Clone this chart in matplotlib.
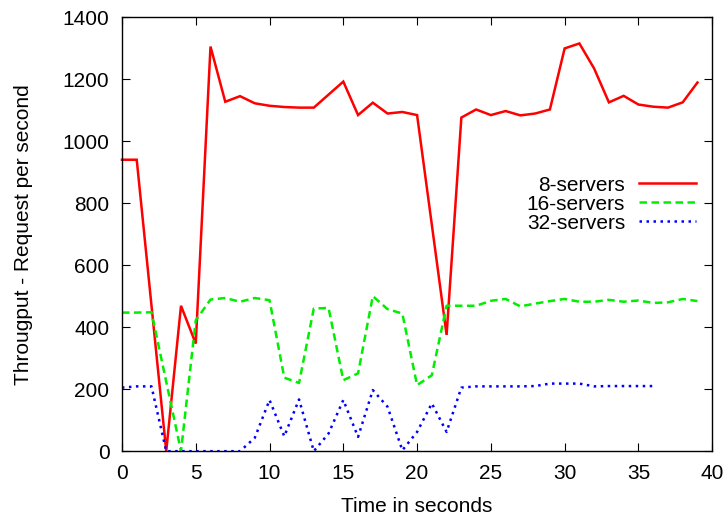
import matplotlib
matplotlib.use("Agg")
import matplotlib.pyplot as plt

plt.rcParams['font.family'] = ['Liberation Sans', 'DejaVu Sans']

# throughput samples, one per second
t8 = list(range(40))
servers8 = [940, 940, 470, 0, 469, 347, 1305, 1127, 1145, 1122,
            1114, 1110, 1108, 1108, 1150, 1192, 1084, 1124, 1089, 1094,
            1084, 730, 375, 1076, 1102, 1084, 1097, 1083, 1089, 1102,
            1299, 1315, 1234, 1125, 1146, 1118, 1111, 1108, 1125, 1189]

t16 = list(range(40))
servers16 = [447, 447, 448, 224, 0, 422, 489, 494, 482, 494,
             487, 237, 220, 460, 462, 229, 251, 500, 458, 444,
             213, 245, 469, 469, 469, 485, 491, 467, 476, 484,
             491, 482, 482, 488, 482, 486, 478, 480, 491, 484]

t32 = list(range(37))
servers32 = [205, 209, 209, 0, 0, 0, 0, 0, 0, 43,
             165, 48, 167, 0, 57, 165, 46, 197, 143, 3,
             62, 154, 62, 205, 209, 209, 209, 209, 210, 218,
             218, 218, 209, 210, 210, 210, 210]

fig = plt.figure(figsize=(7.26, 5.18), dpi=100)
ax = fig.add_axes([0.168, 0.129, 0.813, 0.838])

ax.plot(t8, servers8, color='#ff0000', lw=1.8, label='8-servers',
        solid_joinstyle='miter', clip_on=False)
ax.plot(t16, servers16, color='#00ee00', lw=1.8, ls=(0, (3, 1.8)), label='16-servers')
ax.plot(t32, servers32, color='#0000ff', lw=1.8, ls=(0, (1, 1.8)), label='32-servers')

ax.set_xlim(0, 40)
ax.set_ylim(0, 1400)
ax.set_xticks(range(0, 41, 5))
ax.set_yticks(range(0, 1401, 200))
ax.tick_params(direction='in', top=True, right=True, length=6, labelsize=15, pad=9)
for s in ax.spines.values():
    s.set_linewidth(1.0)

ax.set_xlabel('Time in seconds', fontsize=15, labelpad=10)
ax.set_ylabel('Througput - Request per second', fontsize=15, labelpad=21)

ax.legend(loc='upper right', bbox_to_anchor=(1.005, 0.678), frameon=False,
          markerfirst=False, fontsize=15, handlelength=2.75, labelspacing=0.0,
          handletextpad=0.67)

fig.savefig('out.png', dpi=100)
